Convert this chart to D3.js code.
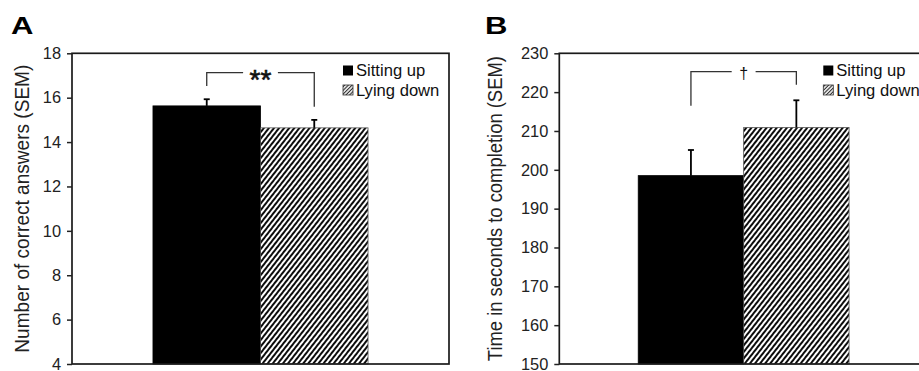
<!DOCTYPE html>
<html>
<head>
<meta charset="utf-8">
<script src="https://cdn.jsdelivr.net/npm/d3@7"></script>
<style>
  body { margin: 0; background: #fff; }
  svg { display: block; font-family: "Liberation Sans", Arial, sans-serif; }
  .tick text { font-size: 16.4px; fill: #222; }
  .tick line { stroke: #222; stroke-width: 1.5; }
  .axis-title { font-size: 21px; fill: #222; }
  .legend text { font-size: 16.6px; fill: #111; }
  .panel-letter { font-size: 23px; font-weight: bold; fill: #000; }
</style>
</head>
<body>
<svg id="chart" width="919" height="371"></svg>
<script>
const groups = ["Sitting up", "Lying down"];

// panel A: number of correct answers
const correctMeans = [15.63, 14.64];
const correctSem = [0.30, 0.36];
const correctTicks = [4, 6, 8, 10, 12, 14, 16, 18];
const correctBracket = [16.53, 17.13, 15.59]; // left end, top, right end

// panel B: time to completion
const timeMeans = [198.5, 210.9];
const timeSem = [6.6, 7.0];
const timeTicks = [150, 160, 170, 180, 190, 200, 210, 220, 230];
const timeBracket = [216.5, 225.3, 221.9];

const plotTop = 53.3;
const plotBottom = 364;
const plotWidth = 377;

const svg = d3.select("#chart");

const defs = svg.append("defs");
defs.append("pattern")
  .attr("id", "hatch")
  .attr("patternUnits", "userSpaceOnUse")
  .attr("width", 4).attr("height", 4)
  .attr("patternTransform", "rotate(38)")
  .append("line")
  .attr("x1", 2).attr("y1", 0).attr("x2", 2).attr("y2", 4)
  .attr("stroke", "#000").attr("stroke-width", 1.9);

defs.append("pattern")
  .attr("id", "hatch-small")
  .attr("patternUnits", "userSpaceOnUse")
  .attr("width", 2.6).attr("height", 2.6)
  .attr("patternTransform", "rotate(45)")
  .append("line")
  .attr("x1", 1.3).attr("y1", 0).attr("x2", 1.3).attr("y2", 2.6)
  .attr("stroke", "#222").attr("stroke-width", 1.1);

const fills = ["#000", "url(#hatch)"];
const legendFills = ["#000", "url(#hatch-small)"];

const drawPanel = (p) => {
  const g = svg.append("g")
    .attr("transform", `translate(${p.left},0)`);

  const y = d3.scaleLinear()
    .domain(d3.extent(p.ticks))
    .range([plotBottom, plotTop]);

  const x = d3.scaleBand()
    .domain(groups)
    .range([0, plotWidth])
    .paddingInner(0)
    .paddingOuter(p.padOuter)
    .align(p.align);

  // bars
  g.selectAll(".bar")
    .data(groups)
    .join("rect")
    .attr("class", "bar")
    .attr("x", d => x(d))
    .attr("width", x.bandwidth())
    .attr("y", (d, i) => y(p.means[i]))
    .attr("height", (d, i) => plotBottom - y(p.means[i]))
    .attr("fill", (d, i) => fills[i])
    .attr("stroke", (d, i) => i === 0 ? "#000" : "#555")
    .attr("stroke-width", 0.8);

  // error bars
  const err = g.selectAll(".err")
    .data(groups)
    .join("g")
    .attr("class", "err")
    .attr("stroke", "#000")
    .attr("stroke-width", 1.8);
  err.append("line")
    .attr("x1", d => x(d) + x.bandwidth() / 2)
    .attr("x2", d => x(d) + x.bandwidth() / 2)
    .attr("y1", (d, i) => y(p.means[i]))
    .attr("y2", (d, i) => y(p.means[i] + p.sem[i]));
  err.append("line")
    .attr("x1", d => x(d) + x.bandwidth() / 2 - 3)
    .attr("x2", d => x(d) + x.bandwidth() / 2 + 3)
    .attr("y1", (d, i) => y(p.means[i] + p.sem[i]))
    .attr("y2", (d, i) => y(p.means[i] + p.sem[i]));

  // frame
  g.append("rect")
    .attr("x", 0).attr("y", plotTop)
    .attr("width", plotWidth).attr("height", plotBottom - plotTop)
    .attr("fill", "none")
    .attr("stroke", "#1a1a1a")
    .attr("stroke-width", 1.7);

  // y axis
  const yAxis = d3.axisLeft(y)
    .tickValues(p.ticks)
    .tickSize(5)
    .tickSizeOuter(0)
    .tickPadding(6);
  g.append("g")
    .attr("class", "y-axis")
    .call(yAxis)
    .call(a => a.select(".domain").remove());

  // significance bracket
  const xL = x(groups[0]) + x.bandwidth() / 2;
  const xR = x(groups[1]) + x.bandwidth() / 2;
  const cx = (xL + xR) / 2;
  const yTop = y(p.bracket[1]);
  const label = g.append("text")
    .attr("x", cx)
    .attr("y", yTop)
    .attr("dy", p.labelDy)
    .attr("text-anchor", "middle")
    .style("font-size", p.labelSize + "px")
    .attr("fill", "#111")
    .attr("stroke", p.labelStroke)
    .attr("stroke-width", 0.6)
    .text(p.label);
  const half = label.node().getComputedTextLength() / 2 + p.labelGap;
  g.append("path")
    .attr("fill", "none")
    .attr("stroke", "#333")
    .attr("stroke-width", 1.3)
    .attr("d", `M${xL},${y(p.bracket[0])}V${yTop}H${cx - half}M${cx + half},${yTop}H${xR}V${y(p.bracket[2])}`);

  // legend
  const legend = g.append("g")
    .attr("class", "legend")
    .attr("transform", `translate(${p.legendX},65.5)`);
  const items = legend.selectAll("g")
    .data(groups)
    .join("g")
    .attr("transform", (d, i) => `translate(0,${i * 19.5})`);
  items.append("rect")
    .attr("width", 10).attr("height", 10)
    .attr("fill", (d, i) => legendFills[i])
    .attr("stroke", (d, i) => i === 0 ? "none" : "#333")
    .attr("stroke-width", 0.8);
  items.append("text")
    .attr("x", 13)
    .attr("y", 10.5)
    .text(d => d);

  // axis title
  g.append("text")
    .attr("class", "axis-title")
    .attr("transform", `translate(${p.titleX - p.left},${(plotTop + plotBottom) / 2}) rotate(-90)`)
    .attr("text-anchor", "middle")
    .attr("textLength", p.titleLength)
    .attr("lengthAdjust", "spacingAndGlyphs")
    .text(p.title);

  // panel letter
  svg.append("text")
    .attr("class", "panel-letter")
    .attr("transform", `translate(${p.letterX},33.5) scale(1.35,1)`)
    .text(p.letter);
};

const initChart = () => {
  drawPanel({
    left: 72, ticks: correctTicks, means: correctMeans, sem: correctSem,
    bracket: correctBracket, label: "**", labelSize: 28, labelDy: "0.58em", labelGap: 6.5,
    labelStroke: "#111",
    padOuter: 0.753, align: 0.5, legendX: 271,
    title: "Number of correct answers (SEM)", titleX: 28.5, titleLength: 288,
    letter: "A", letterX: 11
  });
  drawPanel({
    left: 559.3, ticks: timeTicks, means: timeMeans, sem: timeSem,
    bracket: timeBracket, label: "\u2020", labelSize: 16, labelDy: "0.47em", labelGap: 7.5,
    labelStroke: "none",
    padOuter: 0.788, align: 0.475, legendX: 264,
    title: "Time in seconds to completion (SEM)", titleX: 502, titleLength: 305,
    letter: "B", letterX: 485
  });
};

initChart();
</script>
</body>
</html>
